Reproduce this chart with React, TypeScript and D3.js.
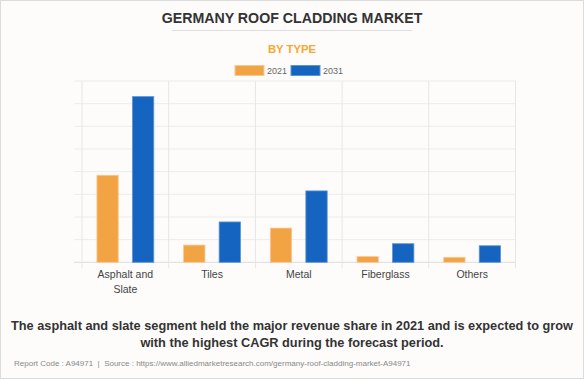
import React from "react";
import * as d3 from "d3";

const categories = ["Asphalt and Slate", "Tiles", "Metal", "Fiberglass", "Others"];
const categoryLines = [["Asphalt and", "Slate"], ["Tiles"], ["Metal"], ["Fiberglass"], ["Others"]];
const seriesNames = ["2021", "2031"];
const values2021 = [384, 76, 151, 25, 22];
const values2031 = [731, 178, 315, 82, 73];
const yTicks = [0, 100, 200, 300, 400, 500, 600, 700, 800];

const W = 584, H = 379;
const colors = ["#f2a444", "#1565c0"];
const borders = ["#f8c894", "#5a93d6"];

export default function App() {
  const left = 82, right = 515.5, top = 81, bottom = 262.3;
  const x = d3.scaleBand().domain(categories).range([left, right]);
  const x1 = d3.scaleBand().domain(seriesNames).range([0, x.bandwidth()]).paddingInner(0.4).paddingOuter(0.42);
  const y = d3.scaleLinear().domain([0, 800]).range([bottom, top]);
  const series = [values2021, values2031];
  const font = "Liberation Sans, Arial, sans-serif";
  return (
    <svg width={W} height={H} style={{ position: "absolute", left: 0, top: 0, background: "#fdfcfb" }} fontFamily={font}>
      <rect x={0.5} y={0.5} width={W - 1} height={H - 1} fill="#fdfcfb" stroke="#dcdcdc" />
      <text x={W / 2} y={23} textAnchor="middle" fontSize={14.2} fontWeight="bold" fill="#333">GERMANY ROOF CLADDING MARKET</text>
      <line x1={172} x2={412} y1={30.5} y2={30.5} stroke="#dedede" />
      <text x={W / 2} y={52.5} textAnchor="middle" fontSize={11.3} fontWeight="bold" fill="#f7a72f">BY TYPE</text>
      {seriesNames.map((s, i) => {
        const bx = [235, 291][i];
        return (
          <g key={s}>
            <rect x={bx} y={65.5} width={29} height={10} fill={colors[i]} stroke={borders[i]} />
            <text x={bx + 32} y={73.5} fontSize={9} fill="#666">{s}</text>
          </g>
        );
      })}
      {yTicks.map((t) => (
        <line key={t} x1={left - 8} x2={right} y1={y(t)} y2={y(t)} stroke={t === 0 ? "#dcdcdc" : "#ececec"} />
      ))}
      {categories.map((c) => (
        <line key={c} x1={x(c)!} x2={x(c)!} y1={top} y2={bottom + 6} stroke="#e6e6e6" />
      ))}
      <line x1={right} x2={right} y1={top} y2={bottom + 6} stroke="#e6e6e6" />
      {series.map((vals, si) =>
        vals.map((v, ci) => (
          <rect key={si + "-" + ci} x={x(categories[ci])! + x1(seriesNames[si])!} y={y(v)} width={x1.bandwidth()} height={bottom - y(v)}
            fill={colors[si]} stroke={borders[si]} strokeWidth={0.8} />
        ))
      )}
      {categoryLines.map((lines, i) => (
        <text key={i} x={x(categories[i])! + x.bandwidth() / 2} y={277.5} textAnchor="middle" fontSize={10.5} fill="#444">
          {lines.map((l, j) => (
            <tspan key={j} x={x(categories[i])! + x.bandwidth() / 2} dy={j === 0 ? 0 : 15.6}>{l}</tspan>
          ))}
        </text>
      ))}
      <text x={W / 2} y={330} textAnchor="middle" fontSize={12.75} fontWeight="bold" fill="#333">
        The asphalt and slate segment held the major revenue share in 2021 and is expected to grow
      </text>
      <text x={W / 2} y={346.5} textAnchor="middle" fontSize={12.75} fontWeight="bold" fill="#333">
        with the highest CAGR during the forecast period.
      </text>
      <text x={14} y={366} fontSize={8} fill="#888" style={{ whiteSpace: "pre" }}>
        {"Report Code : A94971  |  Source : https://www.alliedmarketresearch.com/germany-roof-cladding-market-A94971"}
      </text>
    </svg>
  );
}
